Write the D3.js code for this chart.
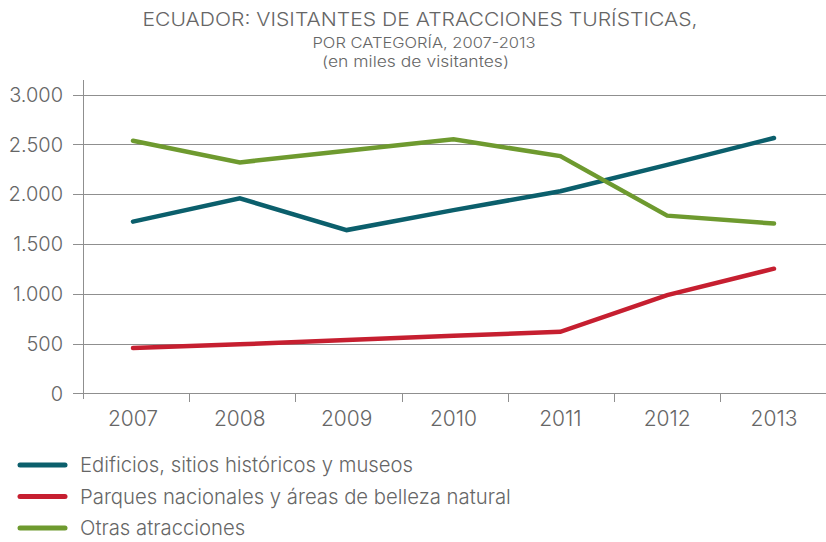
<!DOCTYPE html>
<html>
<head>
<meta charset="utf-8">
<script src="https://cdn.jsdelivr.net/npm/d3@7"></script>
<style>
  body { margin: 0; background: #fff; }
  text { font-family: Inter, "Open Sans", sans-serif; font-weight: 300; fill: #666; }
</style>
</head>
<body>
<div id="viz"></div>
<script>
const years = ["2007", "2008", "2009", "2010", "2011", "2012", "2013"];
const edificios = [1725, 1958, 1640, 1840, 2030, 2295, 2565];
const parques = [455, 492, 535, 578, 618, 987, 1252];
const otras = [2538, 2320, 2436, 2552, 2383, 1785, 1705];
const yTicks = [0, 500, 1000, 1500, 2000, 2500, 3000];
const seriesNames = [
    "Edificios, sitios históricos y museos",
    "Parques nacionales y áreas de belleza natural",
    "Otras atracciones"
];
const seriesColors = ["#0b5f6c", "#c61f30", "#6e9a2f"];

const series = [edificios, parques, otras].map((values, i) => ({
    name: seriesNames[i],
    color: seriesColors[i],
    values: values
}));

const svg = d3.select("#viz").append("svg")
    .attr("width", 826)
    .attr("height", 542);

// Title (the original face is wider than Inter, so stretch to its width)
svg.append("text")
    .attr("x", 420)
    .attr("y", 26)
    .attr("text-anchor", "middle")
    .attr("textLength", 555)
    .attr("lengthAdjust", "spacingAndGlyphs")
    .style("font-size", "19px")
    .text("ECUADOR: VISITANTES DE ATRACCIONES TURÍSTICAS,");
svg.append("text")
    .attr("x", 424)
    .attr("y", 47.5)
    .attr("text-anchor", "middle")
    .attr("textLength", 223)
    .attr("lengthAdjust", "spacingAndGlyphs")
    .style("font-size", "14px")
    .text("POR CATEGORÍA, 2007-2013");
svg.append("text")
    .attr("x", 415.5)
    .attr("y", 66.5)
    .attr("text-anchor", "middle")
    .attr("textLength", 187)
    .attr("lengthAdjust", "spacingAndGlyphs")
    .style("font-size", "15px")
    .text("(en miles de visitantes)");

// Scales
const xBand = d3.scaleBand()
    .domain(years)
    .range([83, 826.4]);

const x = d3.scalePoint()
    .domain(years)
    .range([133, 774]);

const y = d3.scaleLinear()
    .domain([0, 3000])
    .range([393.3, 94.7]);

// Grid lines
svg.append("g")
    .selectAll("line")
    .data(yTicks)
    .enter()
    .append("line")
    .attr("x1", 73)
    .attr("x2", 826)
    .attr("y1", d => Math.round(y(d)) + 0.5)
    .attr("y2", d => Math.round(y(d)) + 0.5)
    .attr("stroke", "#8f8f8f")
    .attr("stroke-width", 1);

// Y labels
svg.append("g")
    .selectAll("text")
    .data(yTicks)
    .enter()
    .append("text")
    .attr("x", 63)
    .attr("y", d => y(d))
    .attr("dy", "0.36em")
    .attr("text-anchor", "end")
    .style("font-size", "20px")
    .text(d => d3.format(",")(d).replace(/,/g, "."));

// Y axis line
svg.append("line")
    .attr("x1", 83.5)
    .attr("x2", 83.5)
    .attr("y1", 80)
    .attr("y2", 399)
    .attr("stroke", "#8f8f8f");

// X ticks between categories
svg.append("g")
    .selectAll("line")
    .data(years.slice(1))
    .enter()
    .append("line")
    .attr("x1", d => Math.round(xBand(d)) + 0.5)
    .attr("x2", d => Math.round(xBand(d)) + 0.5)
    .attr("y1", 393)
    .attr("y2", 402)
    .attr("stroke", "#8f8f8f");

// X labels
svg.append("g")
    .selectAll("text")
    .data(years)
    .enter()
    .append("text")
    .attr("x", d => x(d))
    .attr("y", 426)
    .attr("text-anchor", "middle")
    .style("font-size", "21px")
    .text(d => d);

// Lines
const line = d3.line()
    .x((d, i) => x(years[i]))
    .y(d => y(d));

svg.append("g")
    .selectAll("path")
    .data(series)
    .enter()
    .append("path")
    .attr("d", d => line(d.values))
    .attr("fill", "none")
    .attr("stroke", d => d.color)
    .attr("stroke-width", 4.5)
    .attr("stroke-linecap", "round")
    .attr("stroke-linejoin", "miter");

// Legend
const legend = svg.append("g")
    .selectAll("g")
    .data(series)
    .enter()
    .append("g")
    .attr("transform", (d, i) => `translate(0, ${465 + i * 31.5})`);

legend.append("line")
    .attr("x1", 20)
    .attr("x2", 65)
    .attr("stroke", d => d.color)
    .attr("stroke-width", 5)
    .attr("stroke-linecap", "round");

legend.append("text")
    .attr("x", 80)
    .attr("dy", "0.36em")
    .style("font-size", "20.3px")
    .text(d => d.name);
</script>
</body>
</html>
